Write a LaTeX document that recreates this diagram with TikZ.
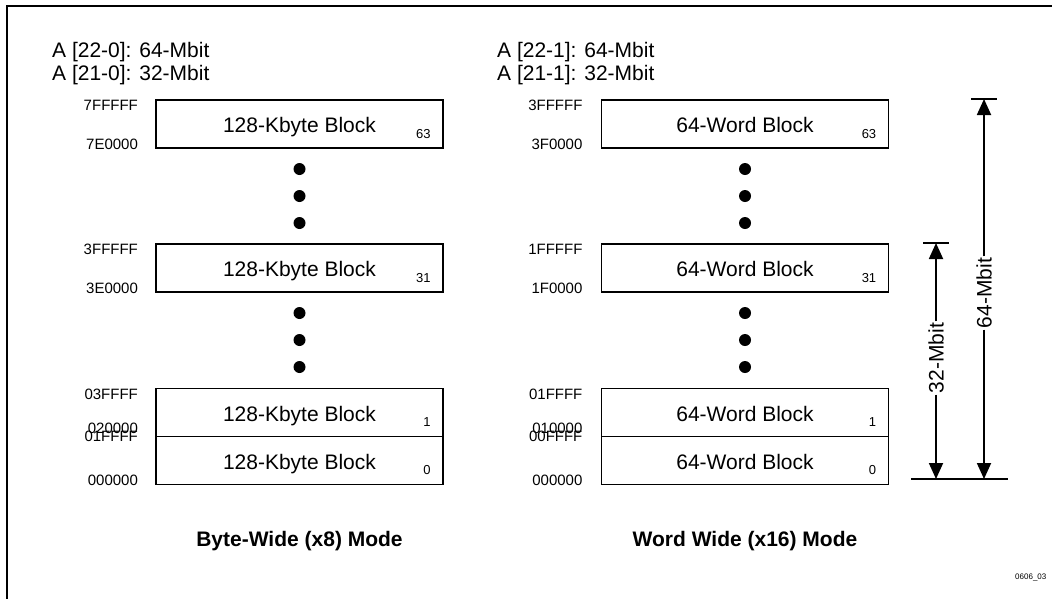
\documentclass[tikz,border=0pt]{standalone}
\usepackage{fontspec}
\setmainfont{Liberation Sans}
\usetikzlibrary{arrows.meta}
\tikzset{
  blk/.style={draw, line width=1.8pt, minimum width=287pt, minimum height=48pt, inner sep=0pt,
    text height=17pt, text depth=0pt, font=\fontsize{21}{23}\selectfont},
  num/.style={anchor=base east, inner sep=0pt, font=\fontsize{13}{14}\selectfont},
  hex/.style={anchor=east, inner sep=0pt, font=\fontsize{15}{17}\selectfont},
  hdr/.style={anchor=west, inner sep=0pt, font=\fontsize{21}{23}\selectfont},
  ttl/.style={inner sep=0pt, font=\bfseries\fontsize{21}{23}\selectfont},
  dotn/.style={circle, fill=black, minimum size=12pt, inner sep=0pt},
  dimlbl/.style={rotate=90, fill=white, inner sep=1.5pt, font=\fontsize{21}{23}\selectfont},
  dimarrow/.style={line width=1.8pt, -{Triangle[width=14pt,length=16pt]}},
  bar/.style={line width=2.5pt},
}
\begin{document}
\begin{tikzpicture}[x=1pt,y=-1pt]
\useasboundingbox (0,0) rectangle (1052,598);
% frame (left and top edges)
\draw[line width=2.5pt] (7,640) -- (7,6) -- (1100,6);

% ---------- left column ----------
\node[hdr] (hL1) at (52,52) {A [22-0]: 64-Mbit};
\node[hdr] (hL2) at (52,75) {A [21-0]: 32-Mbit};

\node[blk] (L63) at (299.5,124) {128-Kbyte Block};
\node[blk] (L31) at (299.5,268) {128-Kbyte Block};
\node[blk] (L1)  at (299.5,412.5) {128-Kbyte Block};
\node[blk] (L0)  at (299.5,460.5) {128-Kbyte Block};

\node[num] (nL63) at ([xshift=-13pt,yshift=-14pt]L63.east) {63};
\node[num] (nL31) at ([xshift=-13pt,yshift=-14pt]L31.east) {31};
\node[num] (nL1)  at ([xshift=-13pt,yshift=-14pt]L1.east) {1};
\node[num] (nL0)  at ([xshift=-13pt,yshift=-14pt]L0.east) {0};

\node[hex] (aL63t) at ([xshift=-17pt,yshift=-6pt]L63.north west) {7FFFFF};
\node[hex] (aL63b) at ([xshift=-17pt,yshift=5pt]L63.south west) {7E0000};
\node[hex] (aL31t) at ([xshift=-17pt,yshift=-6pt]L31.north west) {3FFFFF};
\node[hex] (aL31b) at ([xshift=-17pt,yshift=5pt]L31.south west) {3E0000};
\node[hex] (aL1t)  at ([xshift=-17pt,yshift=-7pt]L1.north west) {03FFFF};
\node[hex] (aL1b)  at ([xshift=-17pt,yshift=9pt]L1.south west) {020000};
\node[hex] (aL0t)  at ([xshift=-17pt,yshift=-1pt]L0.north west) {01FFFF};
\node[hex] (aL0b)  at ([xshift=-17pt,yshift=5pt]L0.south west) {000000};

\node[dotn] (dL1) at (299.5,169) {};
\node[dotn] (dL2) at (299.5,196) {};
\node[dotn] (dL3) at (299.5,223) {};
\node[dotn] (dL4) at (299.5,313) {};
\node[dotn] (dL5) at (299.5,340) {};
\node[dotn] (dL6) at (299.5,367) {};

\node[ttl] (tL) at (299.5,541) {Byte-Wide (x8) Mode};

% ---------- right column ----------
\node[hdr] (hR1) at (497,52) {A [22-1]: 64-Mbit};
\node[hdr] (hR2) at (497,75) {A [21-1]: 32-Mbit};

\node[blk] (R63) at (745,124) {64-Word Block};
\node[blk] (R31) at (745,268) {64-Word Block};
\node[blk] (R1)  at (745,412.5) {64-Word Block};
\node[blk] (R0)  at (745,460.5) {64-Word Block};

\node[num] (nR63) at ([xshift=-13pt,yshift=-14pt]R63.east) {63};
\node[num] (nR31) at ([xshift=-13pt,yshift=-14pt]R31.east) {31};
\node[num] (nR1)  at ([xshift=-13pt,yshift=-14pt]R1.east) {1};
\node[num] (nR0)  at ([xshift=-13pt,yshift=-14pt]R0.east) {0};

\node[hex] (aR63t) at ([xshift=-18pt,yshift=-6pt]R63.north west) {3FFFFF};
\node[hex] (aR63b) at ([xshift=-18pt,yshift=5pt]R63.south west) {3F0000};
\node[hex] (aR31t) at ([xshift=-18pt,yshift=-6pt]R31.north west) {1FFFFF};
\node[hex] (aR31b) at ([xshift=-18pt,yshift=5pt]R31.south west) {1F0000};
\node[hex] (aR1t)  at ([xshift=-18pt,yshift=-7pt]R1.north west) {01FFFF};
\node[hex] (aR1b)  at ([xshift=-18pt,yshift=9pt]R1.south west) {010000};
\node[hex] (aR0t)  at ([xshift=-18pt,yshift=-1pt]R0.north west) {00FFFF};
\node[hex] (aR0b)  at ([xshift=-18pt,yshift=5pt]R0.south west) {000000};

\node[dotn] (dR1) at (745,169) {};
\node[dotn] (dR2) at (745,196) {};
\node[dotn] (dR3) at (745,223) {};
\node[dotn] (dR4) at (745,313) {};
\node[dotn] (dR5) at (745,340) {};
\node[dotn] (dR6) at (745,367) {};

\node[ttl] (tR) at (745,541) {Word Wide (x16) Mode};

% ---------- dimension arrows ----------
\coordinate (b64l) at (971,99);
\coordinate (b64r) at (997,99);
\coordinate (t64) at (984,99);
\coordinate (b32l) at (923,243);
\coordinate (b32r) at (949,243);
\coordinate (t32) at (936,243);
\coordinate (basel) at (911,479);
\coordinate (baser) at (1008,479);
\coordinate (bot64) at (984,479);
\coordinate (bot32) at (936,479);

\draw[bar] (b64l) -- (b64r);
\draw[bar] (b32l) -- (b32r);
\draw[bar] (basel) -- (baser);

\node[dimlbl] (l64) at (984,293) {64-Mbit};
\node[dimlbl] (l32) at (936,358) {32-Mbit};

\draw[dimarrow] (l64.east) -- (t64);
\draw[dimarrow] (l64.west) -- (bot64);
\draw[dimarrow] (l32.east) -- (t32);
\draw[dimarrow] (l32.west) -- (bot32);

% figure id
\node[anchor=west, inner sep=0pt, font=\fontsize{8}{9}\selectfont] (fid) at (1015,577) {0606\_03};
\end{tikzpicture}
\end{document}
